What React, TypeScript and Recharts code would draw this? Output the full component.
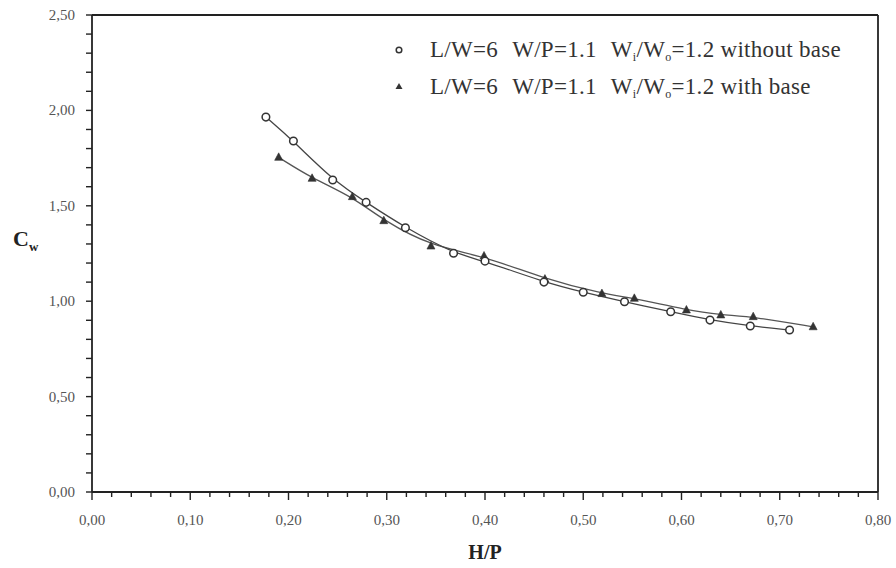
import React from "react";
import {
  LineChart,
  Line,
  XAxis,
  YAxis,
  ReferenceLine,
} from "recharts";

// H/P values and Cw values
const hpWithout = [0.177, 0.205, 0.245, 0.279, 0.319, 0.368, 0.4, 0.46, 0.5, 0.542, 0.589, 0.629, 0.67, 0.71];
const cwWithout = [1.965, 1.84, 1.635, 1.518, 1.385, 1.251, 1.21, 1.1, 1.047, 0.997, 0.945, 0.901, 0.87, 0.849];

const hpWith = [0.19, 0.224, 0.265, 0.297, 0.345, 0.399, 0.461, 0.519, 0.552, 0.605, 0.64, 0.673, 0.734];
const cwWith = [1.754, 1.644, 1.548, 1.422, 1.289, 1.237, 1.116, 1.04, 1.015, 0.954, 0.928, 0.919, 0.866];

const xMajorTicks = [0, 0.1, 0.2, 0.3, 0.4, 0.5, 0.6, 0.7, 0.8];
const yMajorTicks = [0, 0.5, 1.0, 1.5, 2.0, 2.5];

const xTicks: number[] = [];
for (let i = 0; i <= 40; i++) xTicks.push(Math.round(i * 2) / 100);
const yTicks: number[] = [];
for (let i = 0; i <= 25; i++) yTicks.push(Math.round(i * 10) / 100);

const dataWithout = hpWithout.map((x, i) => ({ x, y: cwWithout[i] }));
const dataWith = hpWith.map((x, i) => ({ x, y: cwWith[i] }));

const FONT = "Liberation Serif";
const fmt = (v: number) => v.toFixed(2).replace(".", ",");
const isMajor = (v: number, list: number[]) => list.some((m) => Math.abs(m - v) < 1e-6);

const XTick = (props: any) => {
  const { x, y, payload } = props;
  const major = isMajor(payload.value, xMajorTicks);
  return (
    <g>
      <line x1={x} x2={x} y1={y} y2={y + (major ? 8 : 5)} stroke="#222" strokeWidth={1.4} />
      {major && (
        <text x={x} y={y + 33} textAnchor="middle" style={{ fontFamily: FONT }} fontSize={15} fill="#555">
          {fmt(payload.value)}
        </text>
      )}
    </g>
  );
};

const YTick = (props: any) => {
  const { x, y, payload } = props;
  const major = isMajor(payload.value, yMajorTicks);
  return (
    <g>
      <line x1={x} x2={x - 6} y1={y} y2={y} stroke="#222" strokeWidth={1.4} />
      {major && (
        <text x={x - 17} y={y + 5} textAnchor="end" style={{ fontFamily: FONT }} fontSize={15} fill="#555">
          {fmt(payload.value)}
        </text>
      )}
    </g>
  );
};

const CircleDot = (props: any) => {
  const { cx, cy, index } = props;
  if (cx == null || cy == null) return <g key={index} />;
  return <circle key={index} cx={cx} cy={cy} r={3.8} fill="#fff" stroke="#333" strokeWidth={1.5} />;
};

const TriDot = (props: any) => {
  const { cx, cy, index } = props;
  if (cx == null || cy == null) return <g key={index} />;
  return (
    <polygon
      key={index}
      points={`${cx},${cy - 4.5} ${cx - 4},${cy + 3} ${cx + 4},${cy + 3}`}
      fill="#333"
      stroke="#333"
      strokeWidth={0.6}
    />
  );
};

const sub: React.CSSProperties = { fontSize: 12, verticalAlign: "-4px", lineHeight: 0 };

const LegendText = ({ label }: { label: string }) => (
  <span>
    L/W=6<span style={{ display: "inline-block", width: 14 }} />W/P=1.1
    <span style={{ display: "inline-block", width: 14 }} />W<span style={sub}>i</span>/W
    <span style={sub}>o</span>=1.2 {label}
  </span>
);

export default function App() {
  return (
    <div style={{ position: "absolute", left: 0, top: 0, width: 896, height: 568, background: "#fff" }}>
      <LineChart width={896} height={568} margin={{ top: 15, right: 18, left: 0, bottom: 0 }}>
        <XAxis
          type="number"
          dataKey="x"
          domain={[0, 0.8]}
          ticks={xTicks}
          interval={0}
          tick={<XTick />}
          tickLine={false}
          tickSize={0}
          tickMargin={0}
          height={76}
          axisLine={{ stroke: "#222", strokeWidth: 1.8 }}
          allowDuplicatedCategory={false}
        />
        <YAxis
          type="number"
          dataKey="y"
          domain={[0, 2.5]}
          ticks={yTicks}
          interval={0}
          tick={<YTick />}
          tickLine={false}
          tickSize={0}
          tickMargin={0}
          width={92}
          axisLine={{ stroke: "#222", strokeWidth: 1.8 }}
        />
        <ReferenceLine y={2.5} stroke="#222" strokeWidth={1.8} />
        <ReferenceLine x={0.8} stroke="#222" strokeWidth={1.8} />
        <Line
          data={dataWith}
          dataKey="y"
          type="basis"
          stroke="#555"
          strokeWidth={1.3}
          dot={<TriDot />}
          activeDot={false}
          isAnimationActive={false}
        />
        <Line
          data={dataWithout}
          dataKey="y"
          type="basis"
          stroke="#444"
          strokeWidth={1.3}
          dot={<CircleDot />}
          activeDot={false}
          isAnimationActive={false}
        />
      </LineChart>
      <div
        style={{
          position: "absolute",
          left: 13,
          top: 224,
          fontFamily: FONT,
          fontWeight: "bold",
          fontSize: 22,
          color: "#222",
          lineHeight: "30px",
        }}
      >
        C<span style={{ fontSize: 13, verticalAlign: "-5px", lineHeight: 0 }}>w</span>
      </div>
      <div
        style={{
          position: "absolute",
          left: 0,
          width: 970,
          textAlign: "center",
          top: 540,
          fontFamily: FONT,
          fontWeight: "bold",
          fontSize: 20,
          color: "#222",
          lineHeight: "24px",
        }}
      >
        H/P
      </div>
      <div
        style={{
          position: "absolute",
          left: 390,
          top: 31,
          fontFamily: FONT,
          fontSize: 23,
          letterSpacing: 0.3,
          color: "#333",
          whiteSpace: "nowrap",
        }}
      >
        <div style={{ display: "flex", alignItems: "center", height: 37 }}>
          <svg width={40} height={20}>
            <circle cx={9} cy={10} r={2.8} fill="#fff" stroke="#333" strokeWidth={1.5} />
          </svg>
          <LegendText label="without base" />
        </div>
        <div style={{ display: "flex", alignItems: "center", height: 37 }}>
          <svg width={40} height={20}>
            <polygon points="9,6 5.5,12 12.5,12" fill="#333" />
          </svg>
          <LegendText label="with base" />
        </div>
      </div>
    </div>
  );
}
